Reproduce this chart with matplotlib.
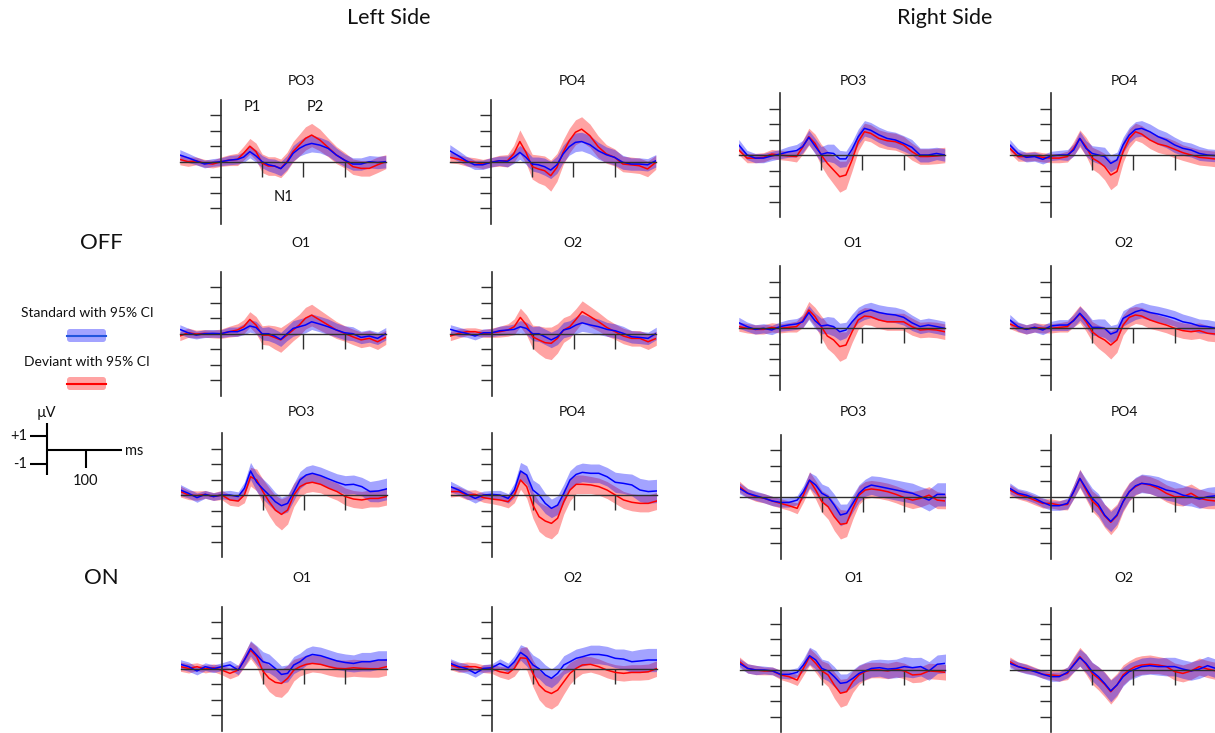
import numpy as np
import matplotlib
matplotlib.use("Agg")
import matplotlib.pyplot as plt
from matplotlib.patches import FancyBboxPatch
from matplotlib.lines import Line2D
from matplotlib.transforms import IdentityTransform

plt.rcParams['font.family'] = ['Lato', 'DejaVu Sans']
plt.rcParams['text.color'] = '#111111'

W, H = 1215, 733

# time points (ms) at which the waveforms were read
times = [-100, -80, -60, -40, -20, 0, 20, 40, 55, 70, 85, 100, 115, 130, 145,
         160, 175, 190, 205, 220, 240, 260, 280, 300, 320, 340, 360, 380, 400]

# ---- OFF, left side ----
off_left_po3_std = [0.43, 0.25, 0.05, -0.15, -0.05, 0.0, 0.1, 0.15, 0.3, 0.65, 0.37, 0.0, -0.2, -0.28, -0.45,
                    -0.06, 0.54, 0.86, 1.07, 1.18, 1.07, 0.86, 0.43, 0.1, -0.15, -0.15, 0.0, -0.05, 0.0]
off_left_po3_std_ci = [0.35, 0.3, 0.25, 0.25, 0.25, 0.25, 0.3, 0.3, 0.35, 0.4, 0.4, 0.4, 0.4, 0.45, 0.45,
                       0.45, 0.5, 0.5, 0.55, 0.55, 0.5, 0.5, 0.45, 0.4, 0.4, 0.4, 0.4, 0.4, 0.4]
off_left_po3_dev = [0.15, 0.0, 0.05, -0.1, -0.15, 0.0, 0.1, 0.15, 0.55, 1.0, 0.65, -0.1, -0.28, -0.28, -0.43,
                    0.0, 0.65, 1.07, 1.5, 1.72, 1.4, 0.92, 0.43, 0.1, -0.32, -0.43, -0.43, -0.2, 0.0]
off_left_po3_dev_ci = [0.35, 0.3, 0.25, 0.25, 0.25, 0.3, 0.35, 0.4, 0.45, 0.5, 0.55, 0.6, 0.6, 0.6, 0.6,
                       0.6, 0.65, 0.7, 0.75, 0.75, 0.7, 0.6, 0.55, 0.5, 0.5, 0.5, 0.5, 0.5, 0.45]

off_left_po4_std = [0.7, 0.39, 0.06, -0.2, -0.2, -0.04, 0.06, 0.02, 0.28, 0.6, 0.28, -0.15, -0.2, -0.32, -0.54,
                    -0.2, 0.5, 0.97, 1.25, 1.3, 1.1, 0.71, 0.45, 0.28, -0.04, -0.15, -0.15, -0.2, 0.06]
off_left_po4_std_ci = [0.4, 0.35, 0.3, 0.3, 0.3, 0.3, 0.3, 0.35, 0.4, 0.45, 0.45, 0.45, 0.5, 0.55, 0.55,
                       0.55, 0.55, 0.55, 0.6, 0.6, 0.6, 0.55, 0.5, 0.5, 0.45, 0.4, 0.4, 0.4, 0.4]
off_left_po4_dev = [0.28, 0.17, 0.02, -0.04, -0.15, -0.04, 0.06, 0.06, 0.5, 1.3, 0.6, -0.32, -0.47, -0.58, -0.9,
                    -0.37, 0.6, 1.35, 1.9, 2.1, 1.68, 0.97, 0.5, 0.28, -0.15, -0.2, -0.26, -0.47, -0.04]
off_left_po4_dev_ci = [0.35, 0.3, 0.3, 0.3, 0.3, 0.3, 0.35, 0.4, 0.55, 0.75, 0.7, 0.8, 0.9, 0.95, 1.0,
                       0.9, 0.8, 0.8, 0.8, 0.8, 0.75, 0.7, 0.6, 0.55, 0.5, 0.5, 0.5, 0.5, 0.45]

off_left_o1_std = [0.28, 0.06, -0.09, 0.0, 0.02, 0.0, 0.13, 0.13, 0.28, 0.5, 0.4, 0.0, 0.0, -0.15, -0.37,
                   0.0, 0.34, 0.45, 0.56, 0.77, 0.62, 0.45, 0.24, 0.06, 0.0, -0.24, -0.15, -0.3, 0.0]
off_left_o1_std_ci = [0.3, 0.3, 0.25, 0.25, 0.25, 0.25, 0.3, 0.3, 0.35, 0.4, 0.4, 0.4, 0.45, 0.45, 0.45,
                      0.45, 0.5, 0.5, 0.5, 0.5, 0.5, 0.5, 0.45, 0.45, 0.45, 0.4, 0.4, 0.4, 0.4]
off_left_o1_dev = [-0.15, 0.06, -0.02, 0.02, -0.02, 0.0, 0.13, 0.24, 0.45, 0.92, 0.56, -0.09, -0.09, -0.24, -0.4,
                   -0.09, 0.24, 0.56, 1.0, 1.2, 0.88, 0.56, 0.24, 0.02, -0.2, -0.4, -0.3, -0.52, -0.24]
off_left_o1_dev_ci = [0.3, 0.3, 0.25, 0.25, 0.25, 0.3, 0.35, 0.4, 0.45, 0.5, 0.55, 0.6, 0.65, 0.75, 0.8,
                      0.75, 0.7, 0.7, 0.7, 0.7, 0.65, 0.6, 0.55, 0.5, 0.5, 0.5, 0.5, 0.5, 0.45]

off_left_o2_std = [0.28, 0.13, 0.02, -0.15, 0.06, 0.06, 0.19, 0.24, 0.28, 0.45, 0.34, 0.0, 0.0, -0.2, -0.4,
                   -0.2, 0.24, 0.34, 0.56, 0.7, 0.56, 0.45, 0.28, 0.19, 0.02, -0.2, -0.24, -0.3, 0.02]
off_left_o2_std_ci = [0.3, 0.3, 0.25, 0.25, 0.25, 0.25, 0.3, 0.3, 0.35, 0.4, 0.4, 0.45, 0.5, 0.5, 0.5,
                      0.5, 0.5, 0.5, 0.55, 0.55, 0.5, 0.5, 0.45, 0.45, 0.45, 0.4, 0.4, 0.4, 0.4]
off_left_o2_dev = [-0.15, 0.02, 0.13, 0.13, 0.02, 0.06, 0.13, 0.24, 0.45, 1.05, 0.56, -0.2, -0.4, -0.58, -0.62,
                   -0.3, 0.24, 0.45, 0.92, 1.42, 1.1, 0.77, 0.4, 0.13, -0.15, -0.3, -0.3, -0.52, -0.3]
off_left_o2_dev_ci = [0.3, 0.3, 0.25, 0.25, 0.25, 0.3, 0.35, 0.4, 0.5, 0.6, 0.65, 0.75, 0.9, 1.0, 1.05,
                      0.95, 0.8, 0.75, 0.7, 0.7, 0.65, 0.6, 0.55, 0.5, 0.5, 0.5, 0.5, 0.5, 0.45]

# ---- OFF, right side ----
off_right_po3_std = [0.65, 0.0, -0.2, -0.2, -0.06, 0.06, 0.2, 0.28, 0.54, 1.14, 0.58, 0.04, 0.15, 0.1, -0.25,
                     -0.25, 0.37, 1.18, 1.72, 1.6, 1.3, 1.07, 0.97, 0.75, 0.5, 0.0, 0.0, 0.1, 0.0]
off_right_po3_std_ci = [0.35, 0.3, 0.3, 0.3, 0.3, 0.3, 0.35, 0.4, 0.4, 0.45, 0.5, 0.5, 0.55, 0.6, 0.55,
                        0.5, 0.5, 0.5, 0.5, 0.5, 0.5, 0.5, 0.5, 0.5, 0.5, 0.45, 0.45, 0.4, 0.4]
off_right_po3_dev = [0.32, -0.2, -0.2, -0.15, 0.06, 0.0, -0.06, -0.1, 0.5, 1.18, 0.75, 0.0, -0.54, -0.97, -1.4,
                     -1.29, -0.32, 0.86, 1.5, 1.4, 1.07, 0.92, 0.86, 0.65, 0.22, -0.1, -0.1, -0.06, 0.0]
off_right_po3_dev_ci = [0.3, 0.3, 0.3, 0.3, 0.3, 0.3, 0.3, 0.35, 0.45, 0.55, 0.6, 0.7, 0.8, 0.9, 1.0,
                        0.9, 0.7, 0.6, 0.55, 0.55, 0.55, 0.55, 0.55, 0.55, 0.55, 0.5, 0.5, 0.5, 0.5]

off_right_po4_std = [0.65, 0.1, -0.15, -0.1, -0.28, -0.06, 0.0, 0.0, 0.32, 1.07, 0.43, 0.1, 0.0, -0.1, -0.54,
                     -0.32, 0.65, 1.29, 1.65, 1.72, 1.5, 1.18, 0.97, 0.65, 0.43, 0.32, 0.1, 0.0, -0.04]
off_right_po4_std_ci = [0.35, 0.3, 0.3, 0.3, 0.3, 0.3, 0.3, 0.35, 0.4, 0.45, 0.5, 0.5, 0.55, 0.6, 0.55,
                        0.5, 0.5, 0.5, 0.5, 0.5, 0.5, 0.5, 0.5, 0.5, 0.45, 0.45, 0.45, 0.4, 0.4]
off_right_po4_dev = [0.43, -0.1, -0.1, -0.06, -0.15, -0.2, -0.2, -0.1, 0.43, 1.07, 0.54, -0.2, -0.43, -0.75, -1.29,
                     -1.07, 0.22, 1.07, 1.5, 1.35, 0.97, 0.71, 0.58, 0.37, 0.15, 0.0, -0.15, -0.2, -0.26]
off_right_po4_dev_ci = [0.3, 0.3, 0.3, 0.3, 0.3, 0.3, 0.3, 0.35, 0.45, 0.55, 0.6, 0.7, 0.75, 0.85, 0.95,
                        0.85, 0.7, 0.6, 0.55, 0.55, 0.55, 0.55, 0.55, 0.55, 0.5, 0.5, 0.5, 0.5, 0.5]

off_right_o1_std = [0.34, 0.09, -0.09, -0.02, -0.13, 0.09, 0.19, 0.26, 0.4, 1.0, 0.47, 0.13, 0.19, 0.09, -0.24,
                    -0.13, 0.4, 0.84, 1.05, 1.16, 1.0, 0.9, 0.84, 0.69, 0.34, 0.09, 0.19, 0.09, -0.02]
off_right_o1_std_ci = [0.35, 0.3, 0.3, 0.3, 0.3, 0.3, 0.35, 0.35, 0.4, 0.45, 0.5, 0.5, 0.55, 0.6, 0.55,
                       0.5, 0.5, 0.5, 0.5, 0.5, 0.5, 0.5, 0.5, 0.5, 0.5, 0.45, 0.45, 0.45, 0.45]
off_right_o1_dev = [0.09, -0.02, -0.09, -0.09, 0.04, -0.02, 0.04, 0.09, 0.47, 1.16, 0.73, 0.09, -0.52, -0.77, -1.2,
                    -1.1, -0.24, 0.52, 0.77, 0.73, 0.52, 0.4, 0.4, 0.4, 0.09, -0.13, -0.09, -0.13, -0.24]
off_right_o1_dev_ci = [0.3, 0.3, 0.3, 0.3, 0.3, 0.3, 0.3, 0.35, 0.45, 0.55, 0.6, 0.7, 0.8, 0.9, 0.95,
                       0.85, 0.7, 0.6, 0.55, 0.55, 0.55, 0.55, 0.55, 0.55, 0.55, 0.5, 0.5, 0.5, 0.5]

off_right_o2_std = [0.52, 0.09, -0.09, 0.04, -0.13, 0.13, 0.19, 0.19, 0.47, 0.95, 0.52, 0.04, 0.04, -0.02, -0.39,
                    -0.24, 0.62, 0.84, 1.05, 1.16, 1.0, 0.9, 0.77, 0.62, 0.4, 0.3, 0.13, 0.09, -0.02]
off_right_o2_std_ci = [0.35, 0.3, 0.3, 0.3, 0.3, 0.3, 0.35, 0.35, 0.4, 0.45, 0.5, 0.5, 0.55, 0.6, 0.55,
                       0.5, 0.5, 0.5, 0.5, 0.5, 0.5, 0.5, 0.5, 0.5, 0.5, 0.45, 0.45, 0.45, 0.45]
off_right_o2_dev = [0.26, 0.04, -0.09, 0.04, -0.02, -0.02, 0.04, 0.09, 0.52, 0.9, 0.4, -0.24, -0.56, -0.77, -1.1,
                    -0.77, 0.19, 0.69, 0.84, 0.77, 0.52, 0.34, 0.19, -0.02, -0.17, -0.24, -0.17, -0.34, -0.39]
off_right_o2_dev_ci = [0.3, 0.3, 0.3, 0.3, 0.3, 0.3, 0.3, 0.35, 0.45, 0.55, 0.6, 0.65, 0.75, 0.85, 0.9,
                       0.8, 0.65, 0.6, 0.55, 0.55, 0.55, 0.5, 0.5, 0.5, 0.5, 0.5, 0.5, 0.5, 0.5]

# ---- ON, left side ----
on_left_po3_std = [0.32, 0.1, -0.17, 0.04, -0.1, 0.0, 0.0, -0.1, 0.43, 1.55, 0.82, 0.39, 0.0, -0.43, -0.69,
                   -0.54, 0.2, 0.97, 1.29, 1.4, 1.25, 1.03, 0.82, 0.65, 0.69, 0.54, 0.22, 0.26, 0.39]
on_left_po3_std_ci = [0.35, 0.3, 0.3, 0.25, 0.25, 0.25, 0.3, 0.3, 0.4, 0.55, 0.6, 0.65, 0.65, 0.6, 0.55,
                      0.55, 0.55, 0.55, 0.55, 0.55, 0.55, 0.55, 0.55, 0.6, 0.6, 0.6, 0.65, 0.7, 0.7]
on_left_po3_dev = [0.22, 0.0, -0.04, 0.04, -0.1, 0.0, -0.32, -0.39, 0.0, 1.18, 0.97, 0.22, -0.43, -0.97, -1.25,
                   -0.97, 0.0, 0.54, 0.75, 0.82, 0.69, 0.43, 0.22, -0.1, -0.26, -0.32, -0.22, -0.22, -0.1]
on_left_po3_dev_ci = [0.35, 0.3, 0.3, 0.25, 0.25, 0.3, 0.35, 0.35, 0.5, 0.6, 0.7, 0.8, 0.9, 0.95, 1.0,
                      0.9, 0.75, 0.65, 0.6, 0.6, 0.55, 0.55, 0.55, 0.55, 0.55, 0.55, 0.55, 0.55, 0.55]

on_left_po4_std = [0.54, 0.32, 0.04, -0.22, 0.0, 0.04, 0.0, -0.22, 0.32, 1.55, 1.29, 0.32, 0.0, -0.54, -0.86,
                   -0.65, 0.1, 0.97, 1.33, 1.46, 1.4, 1.4, 1.18, 0.82, 0.75, 0.65, 0.32, 0.22, 0.26]
on_left_po4_std_ci = [0.35, 0.3, 0.3, 0.3, 0.25, 0.25, 0.3, 0.3, 0.45, 0.55, 0.6, 0.65, 0.7, 0.65, 0.6,
                      0.6, 0.6, 0.6, 0.6, 0.6, 0.6, 0.6, 0.6, 0.65, 0.65, 0.7, 0.75, 0.75, 0.75]
on_left_po4_dev = [0.22, 0.22, 0.0, 0.04, -0.17, -0.26, -0.32, -0.43, 0.0, 0.97, 0.54, -0.65, -1.4, -1.68, -1.83,
                   -1.5, -0.43, 0.32, 0.69, 0.69, 0.65, 0.54, 0.32, 0.0, -0.32, -0.47, -0.54, -0.54, -0.39]
on_left_po4_dev_ci = [0.35, 0.3, 0.3, 0.3, 0.3, 0.3, 0.35, 0.4, 0.5, 0.6, 0.75, 0.85, 0.95, 1.0, 1.0,
                      0.95, 0.8, 0.7, 0.6, 0.6, 0.55, 0.55, 0.55, 0.55, 0.55, 0.55, 0.55, 0.55, 0.55]

on_left_o1_std = [0.28, 0.13, -0.15, 0.13, 0.0, 0.13, 0.24, -0.09, 0.56, 1.31, 0.88, 0.45, 0.34, 0.02, -0.37,
                  -0.3, 0.24, 0.45, 0.77, 0.92, 0.84, 0.67, 0.5, 0.4, 0.34, 0.45, 0.45, 0.56, 0.56]
on_left_o1_std_ci = [0.3, 0.3, 0.25, 0.25, 0.25, 0.25, 0.3, 0.3, 0.4, 0.5, 0.6, 0.65, 0.6, 0.55, 0.55,
                     0.55, 0.55, 0.55, 0.55, 0.55, 0.55, 0.55, 0.55, 0.55, 0.55, 0.6, 0.6, 0.6, 0.6]
on_left_o1_dev = [0.13, 0.02, 0.13, -0.02, 0.06, -0.09, -0.3, -0.09, 0.56, 1.2, 0.77, -0.15, -0.62, -0.88, -0.95,
                  -0.62, -0.09, 0.13, 0.28, 0.34, 0.28, 0.13, 0.02, 0.0, 0.06, 0.02, 0.0, 0.0, 0.13]
on_left_o1_dev_ci = [0.3, 0.3, 0.25, 0.25, 0.25, 0.3, 0.35, 0.35, 0.45, 0.55, 0.65, 0.75, 0.85, 0.9, 0.9,
                     0.85, 0.7, 0.6, 0.6, 0.55, 0.55, 0.55, 0.55, 0.55, 0.55, 0.55, 0.55, 0.55, 0.55]

on_left_o2_std = [0.34, 0.13, 0.0, -0.3, 0.02, 0.06, 0.34, 0.06, 0.45, 1.05, 0.77, 0.24, 0.0, -0.4, -0.62,
                  -0.3, 0.24, 0.45, 0.67, 0.77, 0.92, 0.92, 0.84, 0.67, 0.62, 0.45, 0.5, 0.56, 0.56]
on_left_o2_std_ci = [0.3, 0.3, 0.3, 0.25, 0.25, 0.25, 0.3, 0.3, 0.4, 0.5, 0.6, 0.65, 0.65, 0.65, 0.6,
                     0.6, 0.6, 0.6, 0.6, 0.6, 0.6, 0.6, 0.6, 0.6, 0.65, 0.7, 0.75, 0.75, 0.75]
on_left_o2_dev = [0.24, 0.06, 0.13, 0.13, 0.0, 0.0, -0.2, -0.3, 0.02, 0.7, 0.67, -0.3, -1.05, -1.44, -1.6,
                  -1.38, -0.84, -0.3, 0.02, 0.24, 0.28, 0.13, -0.09, -0.24, -0.3, -0.24, -0.24, -0.2, 0.0]
on_left_o2_dev_ci = [0.3, 0.3, 0.3, 0.25, 0.25, 0.3, 0.35, 0.4, 0.5, 0.65, 0.75, 0.85, 0.95, 1.0, 1.0,
                     0.95, 0.8, 0.7, 0.6, 0.55, 0.5, 0.5, 0.5, 0.5, 0.5, 0.5, 0.5, 0.5, 0.5]

# ---- ON, right side ----
on_right_po3_std = [0.54, 0.22, 0.06, -0.1, -0.28, -0.37, -0.37, -0.22, 0.32, 1.07, 0.75, 0.22, 0.0, -0.54, -1.18,
                    -1.07, -0.43, 0.22, 0.58, 0.75, 0.65, 0.54, 0.43, 0.32, 0.22, 0.0, -0.22, 0.15, 0.15]
on_right_po3_std_ci = [0.35, 0.3, 0.3, 0.3, 0.3, 0.3, 0.3, 0.3, 0.4, 0.5, 0.6, 0.6, 0.65, 0.7, 0.7,
                       0.6, 0.55, 0.55, 0.55, 0.6, 0.65, 0.65, 0.65, 0.65, 0.65, 0.65, 0.7, 0.75, 0.75]
on_right_po3_dev = [0.65, 0.22, 0.0, -0.1, -0.28, -0.43, -0.58, -0.75, 0.1, 1.07, 0.43, -0.32, -0.65, -1.29, -1.78,
                    -1.72, -0.75, 0.1, 0.43, 0.5, 0.43, 0.32, 0.15, -0.06, -0.22, -0.1, 0.1, -0.22, -0.28]
on_right_po3_dev_ci = [0.35, 0.3, 0.3, 0.3, 0.3, 0.3, 0.3, 0.35, 0.45, 0.55, 0.6, 0.7, 0.8, 0.9, 0.95,
                       0.85, 0.7, 0.6, 0.55, 0.55, 0.55, 0.55, 0.55, 0.55, 0.55, 0.55, 0.55, 0.55, 0.5]

on_right_po4_std = [0.54, 0.22, 0.1, -0.1, -0.37, -0.58, -0.58, -0.43, 0.32, 1.18, 0.54, -0.1, -0.5, -1.18, -1.6,
                    -1.18, -0.32, 0.32, 0.7, 0.86, 0.8, 0.65, 0.43, 0.32, 0.1, 0.0, -0.15, 0.0, 0.06]
on_right_po4_std_ci = [0.35, 0.3, 0.3, 0.3, 0.3, 0.3, 0.3, 0.35, 0.45, 0.55, 0.6, 0.65, 0.7, 0.7, 0.65,
                       0.6, 0.55, 0.55, 0.55, 0.6, 0.6, 0.65, 0.65, 0.65, 0.65, 0.6, 0.6, 0.6, 0.6]
on_right_po4_dev = [0.43, 0.15, 0.0, -0.22, -0.43, -0.43, -0.54, -0.5, 0.32, 1.18, 0.43, -0.28, -0.65, -1.23, -1.65,
                    -1.23, -0.32, 0.32, 0.65, 0.86, 0.75, 0.54, 0.22, 0.0, 0.0, 0.22, -0.1, -0.22, -0.28]
on_right_po4_dev_ci = [0.35, 0.3, 0.3, 0.3, 0.3, 0.3, 0.3, 0.35, 0.45, 0.6, 0.6, 0.65, 0.7, 0.75, 0.8,
                       0.75, 0.65, 0.6, 0.55, 0.55, 0.55, 0.55, 0.55, 0.55, 0.6, 0.6, 0.6, 0.55, 0.5]

on_right_o1_std = [0.43, 0.1, 0.0, 0.0, -0.06, -0.28, -0.28, -0.15, 0.32, 0.92, 0.65, 0.1, -0.06, -0.43, -0.86,
                   -0.8, -0.54, -0.22, -0.06, 0.1, 0.15, 0.06, 0.1, 0.22, 0.15, 0.22, -0.06, 0.37, 0.43]
on_right_o1_std_ci = [0.3, 0.3, 0.3, 0.25, 0.25, 0.25, 0.3, 0.3, 0.4, 0.55, 0.6, 0.6, 0.65, 0.65, 0.6,
                      0.55, 0.55, 0.55, 0.55, 0.55, 0.55, 0.6, 0.6, 0.65, 0.65, 0.6, 0.6, 0.6, 0.6]
on_right_o1_dev = [0.54, 0.1, 0.0, -0.06, -0.06, -0.32, -0.43, -0.65, 0.1, 0.86, 0.43, -0.06, -0.32, -0.97, -1.5,
                   -1.4, -0.75, -0.32, -0.1, 0.0, 0.0, -0.06, 0.06, -0.06, -0.32, -0.28, -0.06, -0.1, -0.15]
on_right_o1_dev_ci = [0.3, 0.3, 0.3, 0.25, 0.25, 0.3, 0.35, 0.35, 0.45, 0.55, 0.6, 0.65, 0.75, 0.85, 0.9,
                      0.85, 0.7, 0.6, 0.55, 0.5, 0.5, 0.5, 0.5, 0.5, 0.5, 0.5, 0.5, 0.5, 0.5]

on_right_o2_std = [0.43, 0.22, 0.06, -0.1, -0.28, -0.43, -0.43, -0.15, 0.32, 0.8, 0.43, -0.1, -0.43, -0.86, -1.35,
                   -0.97, -0.43, -0.1, 0.06, 0.22, 0.28, 0.22, 0.22, 0.22, 0.06, -0.06, 0.06, 0.28, 0.1]
on_right_o2_std_ci = [0.3, 0.3, 0.3, 0.25, 0.25, 0.3, 0.3, 0.35, 0.45, 0.55, 0.6, 0.6, 0.65, 0.7, 0.7,
                      0.65, 0.6, 0.55, 0.55, 0.55, 0.55, 0.55, 0.6, 0.6, 0.6, 0.6, 0.6, 0.6, 0.6]
on_right_o2_dev = [0.54, 0.22, 0.1, -0.06, -0.28, -0.32, -0.37, -0.22, 0.37, 0.86, 0.37, -0.22, -0.54, -0.92, -1.4,
                   -0.97, -0.32, 0.0, 0.22, 0.32, 0.37, 0.32, 0.22, -0.1, -0.22, -0.06, 0.22, 0.06, -0.06]
on_right_o2_dev_ci = [0.3, 0.3, 0.3, 0.25, 0.25, 0.3, 0.35, 0.4, 0.5, 0.6, 0.65, 0.7, 0.75, 0.8, 0.8,
                      0.75, 0.65, 0.6, 0.6, 0.6, 0.6, 0.55, 0.55, 0.55, 0.55, 0.55, 0.55, 0.55, 0.55]

STD_COL = '#0000ff'
DEV_COL = '#ff0000'
AXIS_COL = '#2e2e2e'
BAND_ALPHA = 0.36

fig = plt.figure(figsize=(W / 100, H / 100), dpi=100)


def fx(px):
    return px / W


def fy(py):
    return 1 - py / H


def draw_panel(axis_x, zero_y, name, title_off, title_y, std, std_ci, dev, dev_ci):
    # 0.412 px per ms, 15.5 px per uV
    ax = fig.add_axes([fx(axis_x - 41.2), fy(zero_y + 62), 206 / W, 124 / H])
    t = np.array(times)
    s, sc = np.array(std), np.array(std_ci)
    d, dc = np.array(dev), np.array(dev_ci)
    ax.fill_between(t, d - dc, d + dc, color=DEV_COL, alpha=BAND_ALPHA, lw=0)
    ax.plot(t, d, color=DEV_COL, lw=1.1)
    ax.fill_between(t, s - sc, s + sc, color=STD_COL, alpha=BAND_ALPHA, lw=0)
    ax.plot(t, s, color=STD_COL, lw=1.1)
    ax.set_xlim(-100, 400)
    ax.set_ylim(-4, 4)
    ax.patch.set_alpha(0)
    ax.spines[['top', 'right']].set_visible(False)
    ax.spines['left'].set_position(('data', 0))
    ax.spines['bottom'].set_position(('data', 0))
    ax.spines['left'].set_linewidth(1.2)
    ax.spines['bottom'].set_linewidth(1.0)
    for sp in ('left', 'bottom'):
        ax.spines[sp].set_color(AXIS_COL)
    ax.set_xticks([100, 200, 300])
    ax.set_yticks([-3, -2, -1, 1, 2, 3])
    ax.set_xticklabels([])
    ax.set_yticklabels([])
    ax.tick_params(axis='y', direction='out', length=8, width=1.0, color=AXIS_COL)
    ax.tick_params(axis='x', direction='out', length=11, width=1.0, color=AXIS_COL)
    fig.text(fx(axis_x + title_off), fy(title_y), name, ha='center', va='center', fontsize=10)
    return ax


panels = [
    # left side, OFF
    (221, 161.7, 'PO3', 80, 81, off_left_po3_std, off_left_po3_std_ci, off_left_po3_dev, off_left_po3_dev_ci),
    (491, 161.7, 'PO4', 81, 81, off_left_po4_std, off_left_po4_std_ci, off_left_po4_dev, off_left_po4_dev_ci),
    (221, 333.7, 'O1', 80, 243, off_left_o1_std, off_left_o1_std_ci, off_left_o1_dev, off_left_o1_dev_ci),
    (491.5, 333.7, 'O2', 81, 243, off_left_o2_std, off_left_o2_std_ci, off_left_o2_dev, off_left_o2_dev_ci),
    # right side, OFF
    (780, 155, 'PO3', 73, 81, off_right_po3_std, off_right_po3_std_ci, off_right_po3_dev, off_right_po3_dev_ci),
    (1051, 155, 'PO4', 73, 81, off_right_po4_std, off_right_po4_std_ci, off_right_po4_dev, off_right_po4_dev_ci),
    (780, 328, 'O1', 73, 243, off_right_o1_std, off_right_o1_std_ci, off_right_o1_dev, off_right_o1_dev_ci),
    (1051, 328, 'O2', 73, 243, off_right_o2_std, off_right_o2_std_ci, off_right_o2_dev, off_right_o2_dev_ci),
    # left side, ON
    (221.7, 495, 'PO3', 80, 412, on_left_po3_std, on_left_po3_std_ci, on_left_po3_dev, on_left_po3_dev_ci),
    (491.7, 495, 'PO4', 81, 412, on_left_po4_std, on_left_po4_std_ci, on_left_po4_dev, on_left_po4_dev_ci),
    (221.7, 668.7, 'O1', 80, 578, on_left_o1_std, on_left_o1_std_ci, on_left_o1_dev, on_left_o1_dev_ci),
    (491.7, 668.7, 'O2', 81, 578, on_left_o2_std, on_left_o2_std_ci, on_left_o2_dev, on_left_o2_dev_ci),
    # right side, ON
    (780.7, 496.7, 'PO3', 73, 412, on_right_po3_std, on_right_po3_std_ci, on_right_po3_dev, on_right_po3_dev_ci),
    (1051, 496.7, 'PO4', 73, 412, on_right_po4_std, on_right_po4_std_ci, on_right_po4_dev, on_right_po4_dev_ci),
    (780.7, 670, 'O1', 73, 578, on_right_o1_std, on_right_o1_std_ci, on_right_o1_dev, on_right_o1_dev_ci),
    (1051, 670, 'O2', 73, 578, on_right_o2_std, on_right_o2_std_ci, on_right_o2_dev, on_right_o2_dev_ci),
]

axes = [draw_panel(*p) for p in panels]

# component labels on the first panel
a0 = axes[0]
a0.text(76, 3.55, 'P1', ha='center', va='center', fontsize=10.5)
a0.text(228, 3.55, 'P2', ha='center', va='center', fontsize=10.5)
a0.text(151, -2.26, 'N1', ha='center', va='center', fontsize=10.5)

# headers
fig.text(fx(389), fy(18), 'Left Side', ha='center', va='center', fontsize=15.5)
fig.text(fx(945), fy(18), 'Right Side', ha='center', va='center', fontsize=15.5)
fig.text(fx(101), fy(243), 'OFF', ha='center', va='center', fontsize=16)
fig.text(fx(101), fy(578), 'ON', ha='center', va='center', fontsize=16)

# legend swatches
fig.text(fx(87), fy(313), 'Standard with 95% CI', ha='center', va='center', fontsize=10)
fig.text(fx(87), fy(362), 'Deviant with 95% CI', ha='center', va='center', fontsize=10)
for ytop, col, line_col in [(329, STD_COL, '#2255dd'), (377, DEV_COL, DEV_COL)]:
    box = FancyBboxPatch((67, H - ytop - 13), 39, 13, boxstyle='round,pad=0,rounding_size=3',
                         transform=IdentityTransform(), facecolor=col, alpha=BAND_ALPHA, lw=0)
    fig.add_artist(box)
    fig.add_artist(Line2D([67, 106], [H - ytop - 6.5] * 2, transform=IdentityTransform(),
                          color=line_col, lw=1.5))

# scale bar (0.393 px per ms, 14 px per uV, origin at px 46.7, 450)
sb = fig.add_axes([0, fy(500), 170 / W, 100 / H])
sb.set_xlim(-118.8, 313.7)
sb.set_ylim(-3.57, 3.57)
sb.axis('off')
kw = dict(color='black', lw=1.5, solid_capstyle='butt')
sb.plot([0, 0], [1.9, -1.79], **kw)
sb.plot([0, 191], [0, 0], **kw)
sb.plot([100, 100], [0, -1.3], **kw)
sb.plot([-42, 0], [1, 1], **kw)
sb.plot([-42, 0], [-1, -1], **kw)
sb.text(-2, 2.62, 'µV', ha='center', va='center', fontsize=10.5)
sb.text(-50, 1, '+1', ha='right', va='center', fontsize=10.5)
sb.text(-50, -1, '-1', ha='right', va='center', fontsize=10.5)
sb.text(98, -2.2, '100', ha='center', va='center', fontsize=10.5)
sb.text(200, -0.05, 'ms', ha='left', va='center', fontsize=10.5)

fig.savefig('out.png', dpi=100)
